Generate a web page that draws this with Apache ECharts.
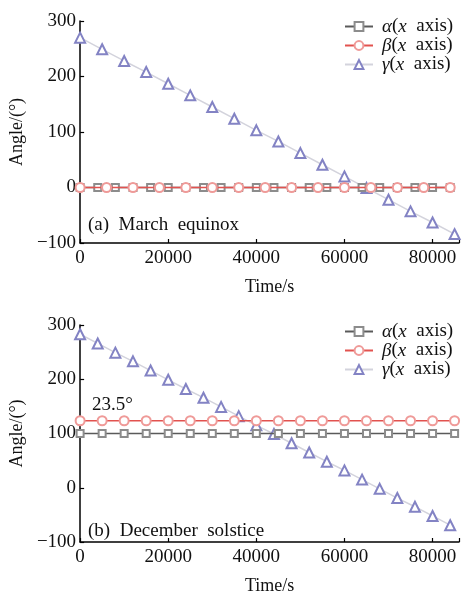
<!DOCTYPE html>
<html>
<head>
<meta charset="utf-8">
<script src="https://cdn.jsdelivr.net/npm/echarts@6/dist/echarts.min.js"></script>
<style>html,body{margin:0;padding:0;background:#fff;}#c{width:462px;height:596px;}</style>
</head>
<body>
<div id="c"></div>
<script>
// ---- data ----
const xTicks = [0, 20000, 40000, 60000, 80000];
const yTicks = [-100, 0, 100, 200, 300];

// (a) March equinox
const aAlphaT = [0,4000,8000,12000,16000,20000,24000,28000,32000,36000,40000,44000,48000,52000,56000,60000,64000,68000,72000,76000,80000,84000];
const aAlphaV = [0,0,0,0,0,0,0,0,0,0,0,0,0,0,0,0,0,0,0,0,0,0];
const aBetaT = [0,6000,12000,18000,24000,30000,36000,42000,48000,54000,60000,66000,72000,78000,84000];
const aBetaV = [0,0,0,0,0,0,0,0,0,0,0,0,0,0,0];
const aGammaT = [0,5000,10000,15000,20000,25000,30000,35000,40000,45000,50000,55000,60000,65000,70000,75000,80000,85000];
const aGammaV = [270,249,228,208,187,166,145,124,103,83,62,41,20,-1,-22,-43,-63,-84];

// (b) December solstice
const bAlphaT = [0,5000,10000,15000,20000,25000,30000,35000,40000,45000,50000,55000,60000,65000,70000,75000,80000,85000];
const bAlphaV = [100,100,100,100,100,100,100,100,100,100,100,100,100,100,100,100,100,100];
const bBetaT = [0,5000,10000,15000,20000,25000,30000,35000,40000,45000,50000,55000,60000,65000,70000,75000,80000,85000];
const bBetaV = [123.5,123.5,123.5,123.5,123.5,123.5,123.5,123.5,123.5,123.5,123.5,123.5,123.5,123.5,123.5,123.5,123.5,123.5];
const bGammaT = [0,4000,8000,12000,16000,20000,24000,28000,32000,36000,40000,44000,48000,52000,56000,60000,64000,68000,72000,76000,80000,84000];
const bGammaV = [283,266,249,233,216,199,182,166,149,132,115,99,82,65,48,32,15,-2,-19,-35,-52,-69];

const legendNames = ['alpha', 'beta', 'gamma'];
const legendLabels = {alpha: '{i|α}({i|x}  axis)', beta: '{i|β}({i|x}  axis)', gamma: '{i|γ}({i|x}  axis)'};
const panelLabels = ['(a)  March  equinox', '(b)  December  solstice'];
const annotation = '23.5°';

// ---- styles ----
const FONT = "'Liberation Serif','Times New Roman',serif";
const styles = {
  alpha: {symbol: 'emptyRect', size: 7, line: '#5a5a5a', mark: '#8c8c8c', z: 3},
  beta:  {symbol: 'emptyCircle', size: 9, line: '#e2524f', mark: '#ef9a98', z: 4},
  gamma: {symbol: 'emptyTriangle', size: 10, line: '#d3d3dc', mark: '#8383c4', z: 2}
};
const zip = (t, v) => t.map((x, i) => [x, v[i]]);

function mkSeries(key, t, v, gi) {
  const s = styles[key];
  return {
    name: key, type: 'line', xAxisIndex: gi, yAxisIndex: gi,
    data: zip(t, v), symbol: s.symbol, symbolSize: s.size, showAllSymbol: true,
    lineStyle: {color: s.line, width: 1.5}, itemStyle: {color: s.mark, borderWidth: 1.2},
    z: s.z, animation: false, emphasis: {disabled: true}
  };
}

const grids = [
  {left: 80, top: 21, width: 379, height: 222},
  {left: 80, top: 325, width: 379, height: 220}
];

function mkX(gi) {
  return {
    type: 'value', gridIndex: gi, min: 0, max: 86000, interval: 20000,
    name: 'Time/s', nameLocation: 'middle', nameGap: 35,
    nameTextStyle: {fontFamily: FONT, fontSize: 18, color: '#111'},
    axisLine: {show: true, onZero: false, lineStyle: {color: '#000', width: 1.5}},
    axisTick: {show: true, inside: true, length: 4, lineStyle: {color: '#000', width: 1.2}},
    axisLabel: {fontFamily: FONT, fontSize: 19, color: '#111', margin: 6,
      customValues: xTicks, formatter: v => String(v)},
    splitLine: {show: false}
  };
}
function mkY(gi) {
  return {
    type: 'value', gridIndex: gi, min: -100, max: 300, interval: 100,
    name: 'Angle/(°)', nameLocation: 'middle', nameGap: 47, nameRotate: 90,
    nameTextStyle: {fontFamily: FONT, fontSize: 18, color: '#111'},
    axisLine: {show: true, lineStyle: {color: '#000', width: 1.5}},
    axisTick: {show: true, inside: true, length: 4, lineStyle: {color: '#000', width: 1.2}},
    axisLabel: {fontFamily: FONT, fontSize: 19, color: '#111', margin: 4,
      customValues: yTicks, formatter: v => String(v).replace('-', '−')},
    splitLine: {show: false}
  };
}
function mkLegend(top) {
  return {
    data: legendNames, orient: 'vertical', left: 344, top: top,
    itemWidth: 28, itemHeight: 11, itemGap: 0, padding: 0,
    formatter: n => legendLabels[n],
    textStyle: {fontFamily: FONT, fontSize: 19, color: '#111', lineHeight: 18, padding: [0, 0, 0, 4],
      rich: {i: {fontFamily: FONT, fontSize: 19, fontStyle: 'italic', color: '#111', lineHeight: 18}}},
    selectedMode: false
  };
}

const option = {
  backgroundColor: '#fff',
  animation: false,
  grid: grids,
  xAxis: [mkX(0), mkX(1)],
  yAxis: [mkY(0), mkY(1)],
  legend: [mkLegend(17), mkLegend(322)],
  series: [
    mkSeries('alpha', aAlphaT, aAlphaV, 0),
    mkSeries('beta', aBetaT, aBetaV, 0),
    mkSeries('gamma', aGammaT, aGammaV, 0),
    mkSeries('alpha', bAlphaT, bAlphaV, 1),
    mkSeries('beta', bBetaT, bBetaV, 1),
    mkSeries('gamma', bGammaT, bGammaV, 1)
  ],
  graphic: [
    {type: 'text', left: 88, top: 216, style: {text: panelLabels[0], font: '19px ' + FONT, fill: '#111'}},
    {type: 'text', left: 88, top: 522, style: {text: panelLabels[1], font: '19px ' + FONT, fill: '#111'}},
    {type: 'text', left: 92, top: 396, style: {text: annotation, font: '19px ' + FONT, fill: '#111'}}
  ]
};
const chart = echarts.init(document.getElementById('c'), null, {renderer: 'canvas'});
chart.setOption(option);
</script>
</body>
</html>
